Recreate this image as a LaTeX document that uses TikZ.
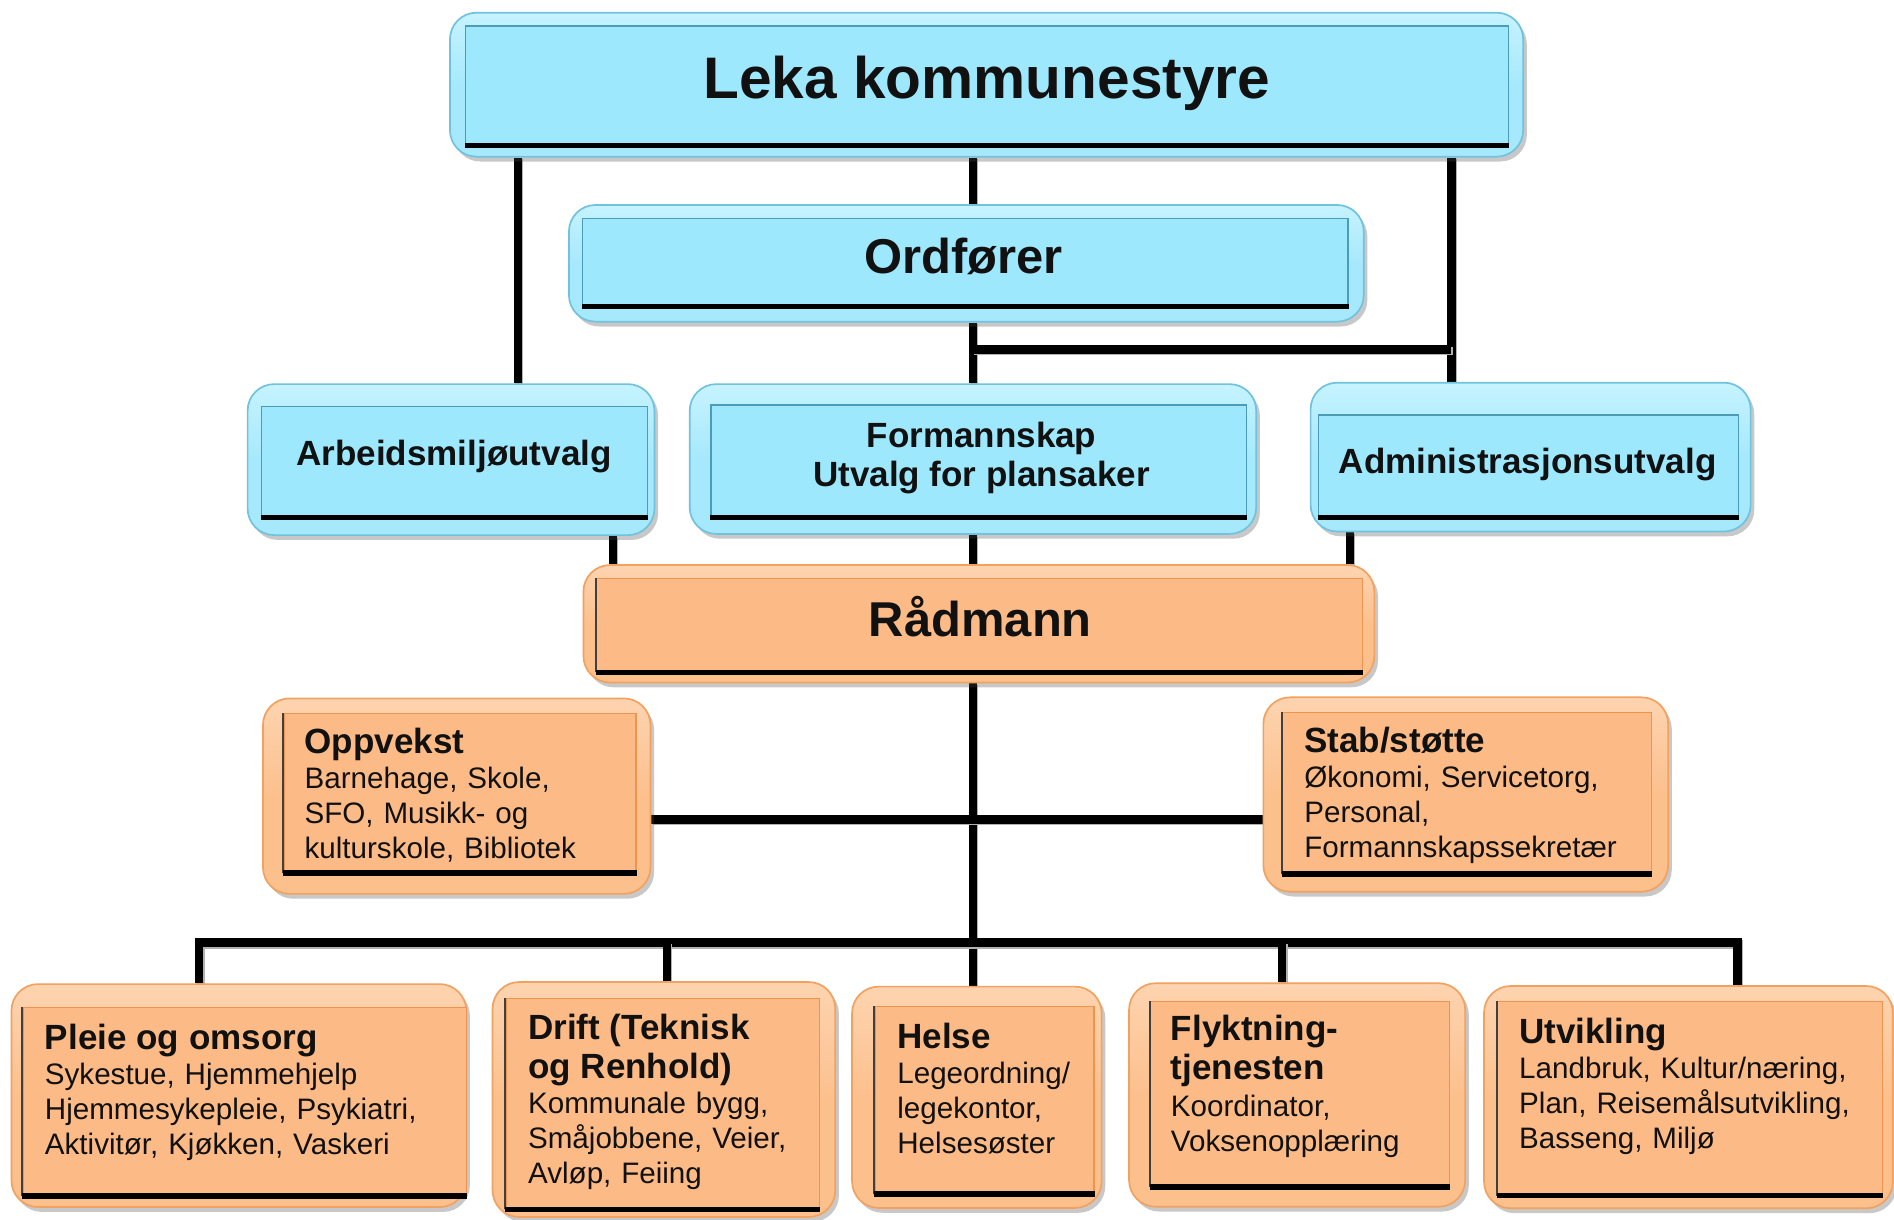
\documentclass[tikz,border=0pt]{standalone}
\usepackage{fontspec}
\setmainfont{Liberation Sans}
\usetikzlibrary{shadows,backgrounds,calc}
\definecolor{bOut}{HTML}{A6E9FC}
\definecolor{bTop}{HTML}{C6F3FF}
\definecolor{bBorder}{HTML}{70C2DE}
\definecolor{bIn}{HTML}{9EE8FE}
\definecolor{bInBorder}{HTML}{4A9CBA}
\definecolor{oOut}{HTML}{FCC08D}
\definecolor{oTop}{HTML}{FDD4B0}
\definecolor{oBorder}{HTML}{F3A15E}
\definecolor{oIn}{HTML}{FCBB86}
\definecolor{oInBorder}{HTML}{EE944E}
\definecolor{txt}{HTML}{111111}
\tikzset{
  outerbox/.style={rounded corners=22pt, line width=1.4pt, inner sep=0pt,
    drop shadow={shadow xshift=3pt, shadow yshift=-4pt, opacity=0.3, fill=black!70}},
  blueouter/.style={outerbox, draw=bBorder, top color=bTop, bottom color=bOut, middle color=bOut},
  orangeouter/.style={outerbox, draw=oBorder, top color=oTop, bottom color=oOut, middle color=oOut},
  blueinner/.style={draw=bInBorder, fill=bIn, line width=1.1pt, inner sep=0pt},
  orangeinner/.style={draw=oInBorder, fill=oIn, line width=1.1pt, inner sep=0pt},
  botline/.style={line width=4.5pt, black},
  leftline/.style={line width=1.6pt, black!75},
  conn/.style={line width=7pt, black, line cap=butt, line join=miter,
    preaction={draw=black!30, line width=7pt, transform canvas={shift={(1pt,-1.5pt)}}}},
  bigtxt/.style={text=txt, inner sep=0pt, anchor=base, font=\fontsize{48.5}{58}\selectfont\bfseries},
  midtxt/.style={text=txt, inner sep=0pt, anchor=base, font=\fontsize{40.5}{48}\selectfont\bfseries},
  subtxt/.style={text=txt, inner sep=0pt, anchor=base, align=center, font=\fontsize{29}{32.6}\selectfont\bfseries},
  bodytxt/.style={text=txt, inner sep=0pt, anchor=base west, align=left, text width=330pt,
    font=\fontsize{24.5}{29}\selectfont},
}
\newcommand{\mkbox}[6]{\node[#1, minimum width={(#5)-(#3)}, minimum height={(#6)-(#4)}] (#2) at ({((#3)+(#5))/2},{((#4)+(#6))/2}) {};}
\newcommand{\hdl}[1]{{\fontsize{29}{29}\selectfont\bfseries #1}}
\begin{document}
\begin{tikzpicture}[x=1pt, y=-1pt]
\useasboundingbox (0,0) rectangle (1568,1010);

% ---------- blue boxes ----------
\mkbox{blueouter}{leka}{372.5}{10.5}{1261}{129.7}
\mkbox{blueinner}{lekain}{385.6}{21.5}{1249}{120}
\draw[botline] (lekain.south west) -- (lekain.south east);
\node[bigtxt] (lekat) at (817,81.4) {Leka kommunestyre};

\mkbox{blueouter}{ord}{471}{169.7}{1129}{266.3}
\mkbox{blueinner}{ordin}{482}{180.7}{1116}{253.3}
\draw[botline] (ordin.south west) -- (ordin.south east);
\node[midtxt] (ordt) at (797.8,226.8) {Ordfører};

\mkbox{blueouter}{arb}{205}{318}{541.8}{443}
\mkbox{blueinner}{arbin}{216.4}{336.7}{536}{427.7}
\draw[botline] (arbin.south west) -- (arbin.south east);
\node[subtxt] (arbt) at (375.9,385) {Arbeidsmiljøutvalg};

\mkbox{blueouter}{form}{571}{318}{1040}{442}
\mkbox{blueinner}{formin}{588.6}{335.3}{1032}{427.7}
\draw[botline] (formin.south west) -- (formin.south east);
\node[subtxt] (formt) at (812.6,402.9) {Formannskap\\Utvalg for plansaker};

\mkbox{blueouter}{adm}{1085}{316.8}{1449.3}{440}
\mkbox{blueinner}{admin}{1091.5}{343.6}{1439}{427.9}
\draw[botline] (admin.south west) -- (admin.south east);
\node[subtxt] (admt) at (1264.7,391.9) {Administrasjonsutvalg};

% ---------- orange boxes ----------
\mkbox{orangeouter}{rad}{483}{467.8}{1137.8}{565}
\mkbox{orangeinner}{radin}{493.8}{478.8}{1128}{556}
\draw[leftline] (radin.south west) -- (radin.north west);
\draw[botline] (radin.south west) -- (radin.south east);
\node[midtxt] (radt) at (811.6,527) {Rådmann};

\mkbox{orangeouter}{opp}{217.7}{578.2}{538.5}{740}
\mkbox{orangeinner}{oppin}{235}{590.8}{526.5}{722}
\draw[leftline] (oppin.south west) -- (oppin.north west);
\draw[botline] (oppin.south west) -- (oppin.south east);
\node[bodytxt] (oppt) at (252,623.7) {\hdl{Oppvekst}\\Barnehage, Skole,\\SFO, Musikk- og\\kulturskole, Bibliotek};

\mkbox{orangeouter}{stab}{1045.9}{577.3}{1381}{738.2}
\mkbox{orangeinner}{stabin}{1061.6}{590}{1367.4}{723}
\draw[leftline] (stabin.south west) -- (stabin.north west);
\draw[botline] (stabin.south west) -- (stabin.south east);
\node[bodytxt] (stabt) at (1079.6,623.1) {\hdl{Stab/støtte}\\Økonomi, Servicetorg,\\Personal,\\Formannskapssekretær};

\mkbox{orangeouter}{pleie}{9.5}{814.7}{386}{999.3}
\mkbox{orangeinner}{pleiein}{19}{834.2}{386}{989.4}
\draw[leftline] (pleiein.south west) -- (pleiein.north west);
\draw[botline] (pleiein.south west) -- (pleiein.south east);
\node[bodytxt] (pleiet) at (37,869.1) {\hdl{Pleie og omsorg}\\Sykestue, Hjemmehjelp\\Hjemmesykepleie, Psykiatri,\\Aktivitør, Kjøkken, Vaskeri};

\mkbox{orangeouter}{drift}{407.8}{813}{691.5}{1007.5}
\mkbox{orangeinner}{driftin}{419}{826.5}{678.6}{1000.6}
\draw[leftline] (driftin.south west) -- (driftin.north west);
\draw[botline] (driftin.south west) -- (driftin.south east);
\node[bodytxt] (driftt) at (437,860.8) {\hdl{Drift (Teknisk}\\[3pt]\hdl{og Renhold)}\\Kommunale bygg,\\Småjobbene, Veier,\\Avløp, Feiing};

\mkbox{orangeouter}{helse}{705.4}{816.8}{912}{1000}
\mkbox{orangeinner}{helsein}{724.4}{833.4}{905.7}{988}
\draw[leftline] (helsein.south west) -- (helsein.north west);
\draw[botline] (helsein.south west) -- (helsein.south east);
\node[bodytxt] (helset) at (742.7,867.9) {\hdl{Helse}\\Legeordning/\\legekontor,\\Helsesøster};

\mkbox{orangeouter}{flykt}{934.7}{814}{1213}{999}
\mkbox{orangeinner}{flyktin}{952.5}{829}{1200}{982}
\draw[leftline] (flyktin.south west) -- (flyktin.north west);
\draw[botline] (flyktin.south west) -- (flyktin.south east);
\node[bodytxt] (flyktt) at (969.2,861) {\hdl{Flyktning-}\\[4pt]\hdl{tjenesten}\\[1pt]Koordinator,\\Voksenopplæring};

\mkbox{orangeouter}{utv}{1228.6}{816.3}{1567}{1000.3}
\mkbox{orangeinner}{utvin}{1239.7}{829}{1558.6}{989.3}
\draw[leftline] (utvin.south west) -- (utvin.north west);
\draw[botline] (utvin.south west) -- (utvin.south east);
\node[bodytxt] (utvt) at (1257.5,863.8) {\hdl{Utvikling}\\Landbruk, Kultur/næring,\\Plan, Reisemålsutvikling,\\Basseng, Miljø};

% ---------- connector positions ----------
\coordinate (xA) at (428.7,0);
\coordinate (xC) at (805.5,0);
\coordinate (xR) at (1201.6,0);
\coordinate (xAr) at (507.5,0);
\coordinate (xAd) at (1117.5,0);
\coordinate (yO) at (0,289.2);
\coordinate (yM) at (0,678.3);
\coordinate (bus) at (0,780.4);
\coordinate (xP) at (164.9,0);
\coordinate (xD) at (552.2,0);
\coordinate (xF) at (1061.4,0);
\coordinate (xU) at (1438.4,0);

\begin{scope}[on background layer]
\fill[white] (0,0) rectangle (1568,1010);
\draw[conn] (leka.south -| xA) -- (arb.north -| xA);
\draw[conn] (leka.south -| xC) -- (ord.north -| xC);
\draw[conn] (leka.south -| xR) -- (adm.north -| xR);
\draw[conn] (ord.south -| xC) -- (form.north -| xC);
\draw[conn] (yO -| xC) -- (yO -| xR);
\draw[conn] (arb.south -| xAr) -- (rad.north -| xAr);
\draw[conn] (form.south -| xC) -- (rad.north -| xC);
\draw[conn] (adm.south -| xAd) -- (rad.north -| xAd);
\draw[conn] (rad.south -| xC) -- (helse.north -| xC);
\draw[conn] (opp.east |- yM) -- (stab.west |- yM);
\draw[conn] (pleie.north -| xP) -- (bus -| xP) -- (bus -| xU) -- (utv.north -| xU);
\draw[conn] (bus -| xD) -- (drift.north -| xD);
\draw[conn] (bus -| xF) -- (flykt.north -| xF);
\end{scope}
\end{tikzpicture}
\end{document}
